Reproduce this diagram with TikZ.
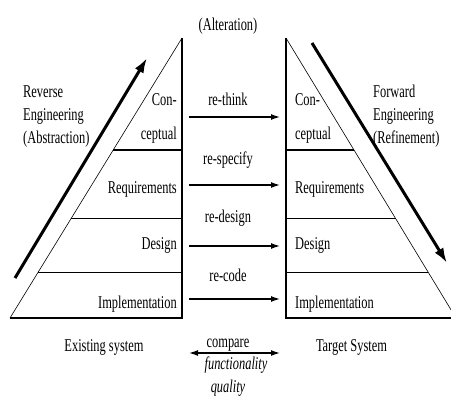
\documentclass[tikz,border=0pt]{standalone}
\usepackage{fontspec}
\setmainfont{Liberation Serif}[FakeStretch=0.69]
\usetikzlibrary{arrows.meta, calc}

\begin{document}
\begin{tikzpicture}[x=1pt, y=-1pt, font=\fontsize{18}{23}\selectfont,
      side/.style ={line width=0.6pt},
      edge/.style ={line width=1.1pt},
      act/.style  ={line width=1.3pt, -{Latex[length=9pt,width=6pt]}},
      cmp/.style  ={line width=1.3pt, {Latex[length=9pt,width=6pt]}-{Latex[length=9pt,width=6pt]}},
      flow/.style ={line width=3pt, -{Latex[length=15pt,width=10pt]}},
      lbl/.style  ={anchor=base, inner sep=0pt},
      lstage/.style={anchor=base east, inner sep=0pt},
      rstage/.style={anchor=base west, inner sep=0pt},
      note/.style ={anchor=north west, inner sep=0pt, align=left}]
    \useasboundingbox (0,0) rectangle (451,397);
    % --- LEFT: pyramid of the existing system ---
    \coordinate (ltop) at (182,38);
    \coordinate (lbl)  at (10,318);
    \coordinate (lbr)  at (182,318);
    \draw[edge] (ltop) -- (lbr) -- (lbl);
    \draw[side] (lbl) -- (ltop);
    \draw[edge] ($(ltop)!0.4!(lbl)$)   -- ($(ltop)!0.4!(lbr)$);
    \draw[edge] ($(ltop)!0.646!(lbl)$) -- ($(ltop)!0.646!(lbr)$);
    \draw[edge] ($(ltop)!0.836!(lbl)$) -- ($(ltop)!0.836!(lbr)$);
    \node[lstage] (lcon) at (177,105)   {Con-};
    \node[lstage] (lcep) at (177,139.5) {ceptual};
    \node[lstage] (lreq) at (177,193)   {Requirements};
    \node[lstage] (ldes) at (177,249.5) {Design};
    \node[lstage] (limp) at (177,308)   {Implementation};
    \node[lbl] (lname) at (104,351) {Existing system};
    % --- RIGHT: pyramid of the target system ---
    \coordinate (rtop) at (286,38);
    \coordinate (rbl)  at (286,318);
    \coordinate (rbr)  at (456,318);
    \draw[edge] (rtop) -- (rbl) -- (rbr);
    \draw[side] (rbr) -- (rtop);
    \draw[edge] ($(rtop)!0.4!(rbl)$)   -- ($(rtop)!0.4!(rbr)$);
    \draw[edge] ($(rtop)!0.646!(rbl)$) -- ($(rtop)!0.646!(rbr)$);
    \draw[edge] ($(rtop)!0.836!(rbl)$) -- ($(rtop)!0.836!(rbr)$);
    \node[rstage] (rcon) at (295,105)   {Con-};
    \node[rstage] (rcep) at (295,139.5) {ceptual};
    \node[rstage] (rreq) at (295,193)   {Requirements};
    \node[rstage] (rdes) at (295,249.5) {Design};
    \node[rstage] (rimp) at (295,308)   {Implementation};
    \node[lbl] (rname) at (351.5,351) {Target System};
    % --- CENTRE: alteration at each level ---
    \node[lbl] (alt) at (228,30) {(Alteration)};
    \coordinate (a1) at (189,117); \coordinate (b1) at (280,117);
    \coordinate (a2) at (189,185); \coordinate (b2) at (280,185);
    \coordinate (a3) at (189,246); \coordinate (b3) at (280,246);
    \coordinate (a4) at (189,299); \coordinate (b4) at (280,299);
    \coordinate (a5) at (189,353); \coordinate (b5) at (280,353);
    \draw[act] (a1) -- (b1);
    \draw[act] (a2) -- (b2);
    \draw[act] (a3) -- (b3);
    \draw[act] (a4) -- (b4);
    \draw[cmp] (a5) -- (b5);
    \node[lbl] (think) at (228,105) {re-think};
    \node[lbl] (spec)  at (228,164) {re-specify};
    \node[lbl] (dsgn)  at (228,222) {re-design};
    \node[lbl] (code)  at (228,281) {re-code};
    \node[lbl] (cmpr)  at (228,347) {compare};
    \node[lbl] (func)  at (236,369) {\itshape functionality};
    \node[lbl] (qual)  at (228,392) {\itshape quality};
    % --- OUTSIDE: direction of engineering ---
    \node[note] (rev) at (23,86) {Reverse\\Engineering\\(Abstraction)};
    \node[note] (fwd) at (373,85) {Forward\\Engineering\\(Refinement)};
    \coordinate (rs) at (15,278);  \coordinate (re) at (147,58);
    \coordinate (fs) at (312,43);  \coordinate (fe) at (447,263);
    \draw[flow] (rs) -- (re);
    \draw[flow] (fs) -- (fe);
  \end{tikzpicture}
\end{document}
